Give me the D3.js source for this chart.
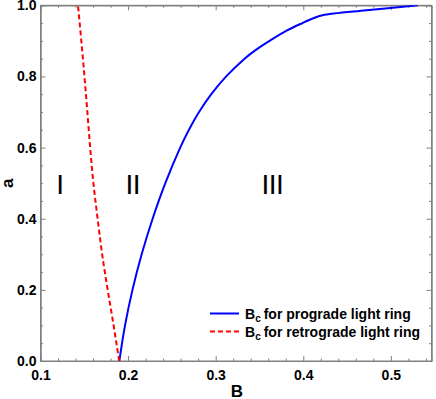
<!DOCTYPE html>
<html><head><meta charset="utf-8">
<script src="https://cdn.jsdelivr.net/npm/d3@7"></script>
<style>body{margin:0;background:#fff}svg{display:block}</style>
</head><body>
<svg id="c" width="436" height="399"></svg>
<script>
// ---- data ----
const progradeA = [0, 0.1, 0.2, 0.3, 0.4, 0.5, 0.6, 0.65, 0.7, 0.75, 0.8, 0.85, 0.874, 0.9, 0.93, 0.95, 0.965, 0.972, 0.986, 1.0];
const progradeB = [0.190, 0.1965, 0.2050, 0.2155, 0.2280, 0.2425, 0.2595, 0.2695, 0.2810, 0.2950, 0.3120, 0.3330, 0.3455, 0.3615, 0.3820, 0.3990, 0.4130, 0.4220, 0.472, 0.531];
const retroA = [0, 0.1, 0.2, 0.3, 0.4, 0.5, 0.6, 0.7, 0.8, 0.9, 1.0];
const retroB = [0.1898, 0.1835, 0.1767, 0.1704, 0.1652, 0.1604, 0.1567, 0.1535, 0.1502, 0.1466, 0.1428];
const xTicks = [0.1, 0.2, 0.3, 0.4, 0.5];
const yTicks = [0.0, 0.2, 0.4, 0.6, 0.8, 1.0];
const regionLabels = ["I", "II", "III"];
const regionB = [0.1222, 0.2054, 0.3648];
const legendLabels = ["for prograde light ring", "for retrograde light ring"];

const svg = d3.select("#c");
const x = d3.scaleLinear().domain([0.1, 0.5464]).range([40.5, 431.5]);
const y = d3.scaleLinear().domain([0, 1]).range([361, 5.3]);
const frameColor = "#808080";

// minor ticks
const xMinor = d3.range(0.1, 0.5465, 0.02).filter(v => Math.abs(Math.round(v*10)/10 - v) > 1e-6);
const yMinor = d3.range(0, 1.0001, 0.05).filter(v => Math.abs(Math.round(v*5)/5 - v) > 1e-6);

function styleAxis(g){
  g.selectAll("path").attr("stroke", frameColor).attr("stroke-width", 1);
  g.selectAll("line").attr("stroke", frameColor).attr("stroke-width", 1);
}
function addAxis(axis, transform, labels){
  const g = svg.append("g").attr("transform", transform).call(axis);
  styleAxis(g);
  if(!labels) g.selectAll("text").remove();
  return g;
}
const fmt = d3.format(".1f");
const bot = addAxis(d3.axisBottom(x).tickValues(xTicks).tickFormat(fmt).tickSizeInner(-5).tickSizeOuter(0).tickPadding(6), `translate(0,${y(0)})`, true);
addAxis(d3.axisBottom(x).tickValues(xMinor).tickSize(-2.5).tickFormat(""), `translate(0,${y(0)})`, false);
addAxis(d3.axisTop(x).tickValues(xTicks).tickSizeInner(-5).tickSizeOuter(0), `translate(0,${y(1)})`, false);
addAxis(d3.axisTop(x).tickValues(xMinor).tickSize(-2.5).tickFormat(""), `translate(0,${y(1)})`, false);
const left = addAxis(d3.axisLeft(y).tickValues(yTicks).tickFormat(fmt).tickSizeInner(-5).tickSizeOuter(0).tickPadding(4), `translate(${x(0.1)},0)`, true);
addAxis(d3.axisLeft(y).tickValues(yMinor).tickSize(-2.5).tickFormat(""), `translate(${x(0.1)},0)`, false);
addAxis(d3.axisRight(y).tickValues(yTicks).tickSizeInner(-5).tickSizeOuter(0), `translate(${x(0.5464)},0)`, false);
addAxis(d3.axisRight(y).tickValues(yMinor).tickSize(-2.5).tickFormat(""), `translate(${x(0.5464)},0)`, false);

[bot, left].forEach(g => g.selectAll("text")
  .attr("font-family", "Liberation Sans, Arial, sans-serif")
  .attr("font-weight", "bold").attr("font-size", 14).attr("fill", "#000"));
bot.selectAll("text").attr("dy", "0.9em");

// frame
svg.append("rect").attr("x", x(0.1)).attr("y", y(1)).attr("width", x(0.5464)-x(0.1)).attr("height", y(0)-y(1))
  .attr("fill", "none").attr("stroke", frameColor).attr("stroke-width", 1);

// clip
svg.append("clipPath").attr("id", "clip").append("rect")
  .attr("x", x(0.1)).attr("y", y(1)).attr("width", x(0.5464)-x(0.1)).attr("height", y(0)-y(1));

const line = d3.line().curve(d3.curveCatmullRom.alpha(0.5));
svg.append("path").attr("clip-path", "url(#clip)")
  .attr("d", line(progradeA.map((a,i) => [x(progradeB[i]), y(a)])))
  .attr("fill", "none").attr("stroke", "#0000ff").attr("stroke-width", 2);
svg.append("path").attr("clip-path", "url(#clip)")
  .attr("d", line(retroA.map((a,i) => [x(retroB[i]), y(a)])))
  .attr("fill", "none").attr("stroke", "#ff0000").attr("stroke-width", 2).attr("stroke-dasharray", "5,3");

// region labels
svg.selectAll("text.region").data(regionLabels).enter().append("text")
  .attr("class", "region")
  .attr("x", (d,i) => x(regionB[i])).attr("y", y(0.5) + 10.5)
  .attr("text-anchor", "middle")
  .attr("letter-spacing", -0.5)
  .attr("font-family", "Liberation Sans, Arial, sans-serif").attr("font-size", 28)
  .text(d => d);

// axis labels
svg.append("text").attr("x", 237).attr("y", 397).attr("text-anchor", "middle")
  .attr("font-family", "Liberation Sans, Arial, sans-serif").attr("font-weight", "bold").attr("font-size", 17)
  .text("B");
svg.append("text").attr("transform", `translate(12.5,${y(0.5)}) rotate(-90)`).attr("text-anchor", "middle")
  .attr("font-family", "Liberation Sans, Arial, sans-serif").attr("font-weight", "bold").attr("font-size", 17)
  .text("a");

// legend
const legColors = ["#0000ff", "#ff0000"];
const legDash = [null, "5,3"];
const legY = [313.5, 331.5];
legendLabels.forEach((lab, i) => {
  svg.append("line").attr("x1", 210).attr("x2", 239).attr("y1", legY[i]).attr("y2", legY[i])
    .attr("stroke", legColors[i]).attr("stroke-width", 2).attr("stroke-dasharray", legDash[i]);
  const t = svg.append("text").attr("x", 245).attr("y", legY[i] + 5.5)
    .attr("font-family", "Liberation Sans, Arial, sans-serif").attr("font-weight", "bold").attr("font-size", 14);
  t.append("tspan").text("B");
  t.append("tspan").attr("font-size", 10).attr("dy", 3).text("c");
  t.append("tspan").attr("dy", -3).attr("dx", 3).text(lab);
});
</script>
</body></html>
